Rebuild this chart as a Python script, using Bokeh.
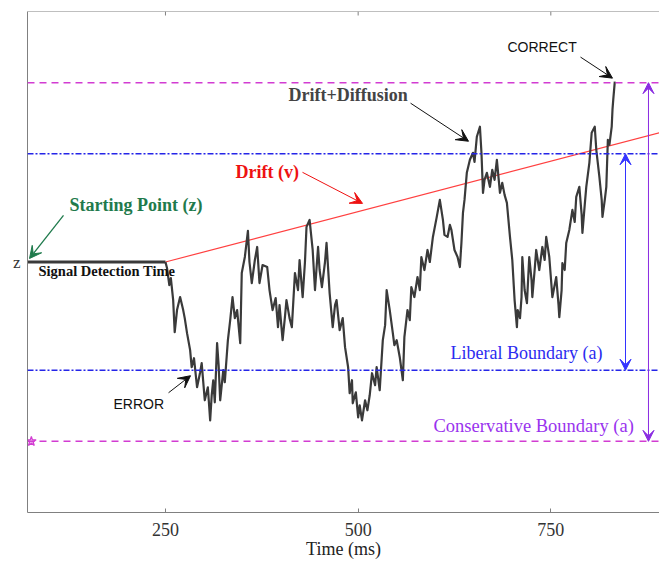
from bokeh.plotting import figure
from bokeh.models import (Arrow, VeeHead, Label, Span, FixedTicker)
from bokeh.embed import file_html
from bokeh.resources import INLINE

# Simulated evidence accumulation trace (time in ms, evidence relative to z)
times = [250, 252, 255, 257, 260, 262, 265, 269, 273, 275,
         278, 282, 284, 287, 291, 295, 297, 301, 305, 308,
         310, 312, 314, 317, 319, 321, 325, 327, 331, 334,
         337, 340, 343, 347, 349, 353, 357, 359, 362, 366,
         369, 372, 376, 382, 385, 389, 393, 396, 398, 402,
         405, 407, 411, 414, 418, 422, 424, 428, 431, 433,
         437, 441, 444, 448, 450, 453, 457, 459, 463, 467,
         470, 472, 476, 480, 483, 487, 489, 492, 493, 497,
         500, 502, 505, 509, 512, 515, 518, 522, 524, 528,
         532, 535, 537, 541, 545, 547, 550, 554, 558, 560,
         564, 567, 569, 573, 577, 580, 582, 586, 590, 593,
         597, 602, 606, 610, 612, 616, 619, 621, 625, 629,
         632, 634, 636, 638, 641, 645, 649, 651, 654, 658,
         660, 662, 664, 667, 671, 674, 677, 680, 684, 687,
         690, 693, 697, 700, 703, 706, 707, 710, 712, 713,
         716, 719, 722, 725, 726, 729, 731, 735, 739, 742,
         744, 748, 752, 755, 757, 760, 761, 764, 765, 768,
         770, 774, 778, 781, 783, 787, 790, 791, 794, 796,
         800, 803, 807, 809, 813, 816, 817, 820, 822, 824,
         826, 829, 830, 831, 833]
evidence = [0, -6, -23, -16, -38, -70, -48, -35, -48, -56,
            -71, -88, -105, -96, -125, -110, -101, -138, -125, -158,
            -133, -118, -140, -81, -103, -138, -108, -120, -78, -58,
            -35, -56, -48, -81, -11, 5, 31, 0, -21, 2,
            15, -21, -3, -5, -28, -48, -36, -65, -43, -78,
            -55, -38, -56, -65, -11, -28, 2, -35, 0, 35,
            42, 12, -28, 15, -8, -25, 0, 19, -31, -65,
            -43, -38, -68, -56, -85, -105, -131, -118, -141, -130,
            -155, -143, -158, -138, -148, -133, -111, -123, -105, -128,
            -78, -63, -28, -48, -71, -83, -78, -95, -118, -75,
            -48, -58, -25, -35, -15, -28, 5, -8, 12, 0,
            25, 45, 62, 42, 27, 25, 37, 32, 12, 5,
            -5, 19, 49, 62, 89, 102, 109, 100, 125, 135,
            109, 69, 82, 89, 75, 92, 82, 102, 69, 79,
            67, 59, 25, 2, -38, -65, -48, -56, -35, 5,
            -28, -41, 5, -18, -35, -8, 12, -8, 15, 2,
            25, 5, -35, -23, -15, -43, -55, -28, -1, -8,
            19, 32, 52, 40, 65, 75, 47, 29, 57, 75,
            99, 129, 135, 112, 85, 62, 45, 62, 75, 122,
            117, 135, 152, 162, 180]

# Model parameters
t_start = 71            # left end of the time axis (ms)
t_end = 891             # right end of the time axis (ms)
y_low, y_high = -250, 250
signal_detection = 250  # non-decision time (ms)
drift_end = 129         # drift line value at t_end
liberal_a = 108         # liberal boundary distance from z
conservative_a = 179    # conservative boundary distance from z
x_ticks = [250, 500, 750]

SERIF = "Liberation Serif"
SANS = "Liberation Sans"
AXIS_GREY = "#808080"

p = figure(width=659, height=562, x_range=(t_start, t_end), y_range=(y_low, y_high),
           output_backend="svg", toolbar_location=None,
           min_border_left=27, min_border_right=0, min_border_top=11,
           min_border_bottom=50, y_axis_location="left")
p.outline_line_color = None
p.xgrid.visible = False
p.ygrid.visible = False
p.background_fill_color = "white"
p.border_fill_color = "white"

# bottom axis
xa = p.xaxis[0]
xa.ticker = FixedTicker(ticks=x_ticks)
xa.minor_tick_line_color = None
xa.major_tick_in = 4
xa.major_tick_out = 0
xa.axis_line_color = AXIS_GREY
xa.major_tick_line_color = AXIS_GREY
xa.major_label_text_font = SERIF
xa.major_label_text_font_size = "18px"
xa.major_label_text_color = "#333333"
xa.major_label_standoff = 10
xa.axis_label = "Time (ms)"
xa.axis_label_text_font = SERIF
xa.axis_label_text_font_size = "18px"
xa.axis_label_text_font_style = "normal"
xa.axis_label_text_color = "#222222"
xa.axis_label_standoff = 0

# left axis: only the starting point is marked
ya = p.yaxis[0]
ya.ticker = FixedTicker(ticks=[0])
ya.major_label_overrides = {0: "z"}
ya.minor_tick_line_color = None
ya.major_tick_in = 0
ya.major_tick_out = 0
ya.axis_line_color = AXIS_GREY
ya.major_label_text_font = SERIF
ya.major_label_text_font_size = "17px"
ya.major_label_text_color = "#333333"
ya.major_label_standoff = 7

# top border of the frame with inward ticks
p.add_layout(Span(location=y_high, dimension="width", line_color=AXIS_GREY, line_width=1))
p.segment(x0=x_ticks, y0=[y_high] * len(x_ticks), x1=x_ticks,
          y1=[y_high - 4] * len(x_ticks), line_color=AXIS_GREY, line_width=1)

# decision boundaries
for loc in (conservative_a, -conservative_a):
    p.add_layout(Span(location=loc, dimension="width", line_color="#d23cd2",
                      line_width=1.5, line_dash="7 5"))
for loc in (liberal_a, -liberal_a):
    p.add_layout(Span(location=loc, dimension="width", line_color="#2525e8",
                      line_width=1.5, line_dash="6 2 2 2"))

# drift line and signal-detection period
p.line([signal_detection, t_end], [0, drift_end], line_color="#ff4040", line_width=1.2)
p.line([t_start, signal_detection], [0, 0], line_color="#3a3a3a", line_width=3)

# diffusion trace
p.line(times, evidence, line_color="#3a3a3a", line_width=2.2, line_join="round")

# star marker on the lower conservative boundary, next to the axis line
p.scatter([t_start + 5], [-conservative_a], marker="star", size=10,
          line_color="#d23cd2", line_width=1.2, fill_color="#e9a3e9", fill_alpha=0.8)


def arrow(x0, y0, x1, y1, color, size=12, both=False, width=1.0):
    head = VeeHead(size=size, fill_color=color, line_color=color)
    kw = dict(end=head, x_start=x0, y_start=y0, x_end=x1, y_end=y1,
              line_color=color, line_width=width)
    if both:
        kw["start"] = VeeHead(size=size, fill_color=color, line_color=color)
    p.add_layout(Arrow(**kw))


def label(x, y, text, color, size, font=SERIF, style="normal", align="left"):
    p.add_layout(Label(x=x, y=y, text=text, text_color=color, text_font=font,
                       text_font_size=size, text_font_style=style,
                       text_baseline="middle", text_align=align))


label(125.5, 56.5, "Starting Point (z)", "#1f7a4c", "18px", style="bold")
arrow(117.7, 46.5, 73.6, 3.5, "#1f7a4c", size=12, width=1.3)

label(85.3, -8.5, "Signal Detection Time", "#111111", "14.5px", style="bold")

label(340.9, 89.5, "Drift (v)", "#ee1111", "18px", style="bold")
arrow(427.8, 89.5, 505.7, 58.5, "#ee1111", size=12)

label(409.6, 166.5, "Drift+Diffusion", "#444444", "18px", style="bold")
arrow(568.0, 158.5, 643.2, 120.5, "#111111", size=12)

label(693.8, 214.5, "CORRECT", "#111111", "14px", font=SANS)
arrow(788.5, 204.5, 830.0, 183.5, "#111111", size=12)

label(182.6, -141.5, "ERROR", "#111111", "14px", font=SANS)
arrow(254.0, -130.5, 282.5, -113.5, "#111111", size=12)

label(619.8, -90.5, "Liberal Boundary (a)", "#2b2bf0", "18px")
label(597.8, -163.5, "Conservative Boundary (a)", "#9933ee", "18.5px")

arrow(846.9, liberal_a, 846.9, -liberal_a, "#3333ff", size=11, both=True)
arrow(876.7, conservative_a, 876.7, -conservative_a, "#8a2be2", size=11, both=True)

open("out.html", "w").write(file_html(p, INLINE))
